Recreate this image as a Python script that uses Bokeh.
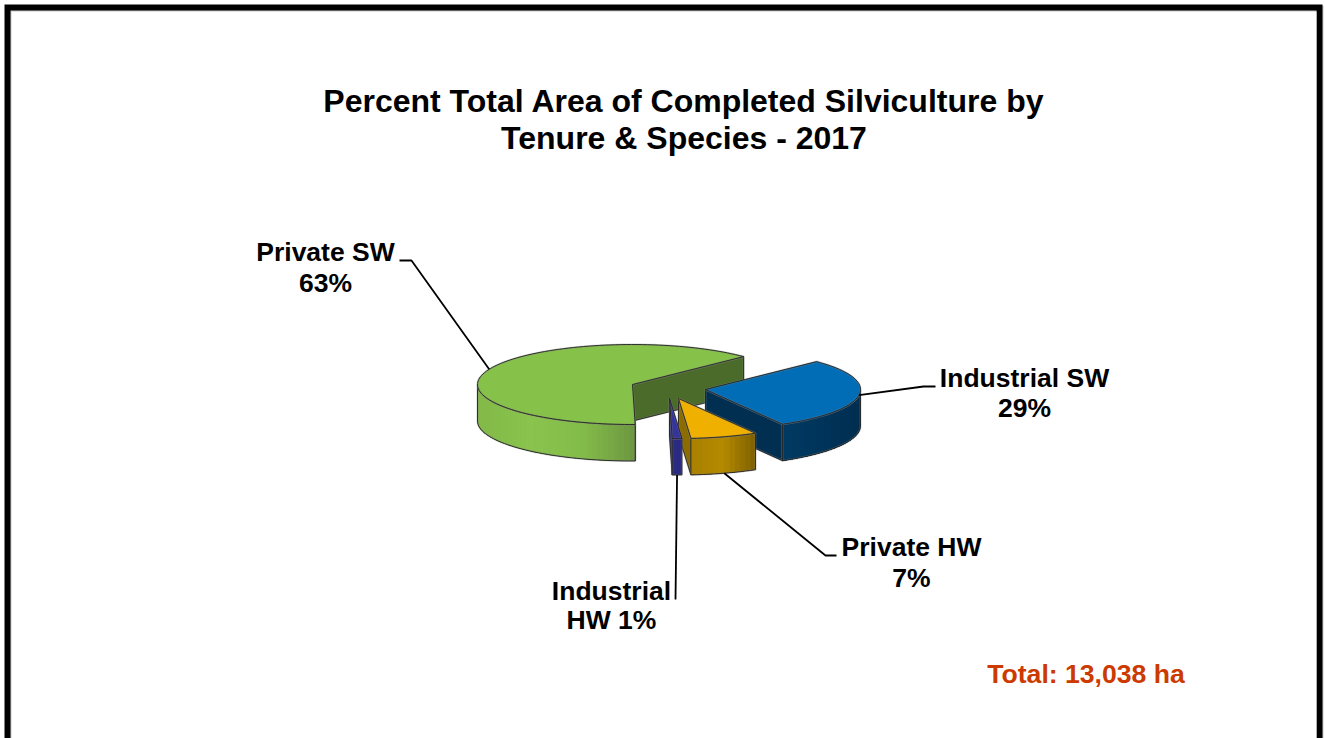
import math
from bokeh.plotting import figure
from bokeh.models import Range1d
from bokeh.core.properties import value
from bokeh.embed import file_html
from bokeh.resources import INLINE

# ---- data ----
categories = ["Private SW", "Industrial SW", "Private HW", "Industrial HW"]
shares = [63, 29, 7, 1]
label_lines = [["Private SW", "63%"], ["Industrial SW", "29%"], ["Private HW", "7%"], ["Industrial", "HW 1%"]]
title_lines = ["Percent Total Area of Completed Silviculture by", "Tenure & Species - 2017"]
total_text = "Total: 13,038 ha"

# ---- layout and style ----
W, H = 1325, 738
FIRST_ANGLE = 179.0          # clockwise from north
RX, RY, DEPTH = 155, 40, 36.5
apexes = [(632, 384), (705, 389), (678, 398), (669, 398)]
top_colors = ["#86C14A", "#006DB6", "#F0B000", "#34349A"]
face_colors = ["#4A6B2A", "#002F52", "#8C6C00", "#28287A"]
rim_stops = [
    ["#82B948", "#8AC34D", "#84BC4A", "#6C9640"],
    ["#003A63", "#00345A", "#002E50"],
    ["#A98100", "#B48A00", "#7E6000"],
    ["#2B2B84", "#2A2A80"],
]
leader_elbows = [[(411, 260), (399, 260)], [(923, 386), (935, 386)], [(825, 555), (836, 555)], [(675, 599)]]
TEXT_SHIFT = -10.5
label_pos = [(325, 261.5, 292.5), (1024, 388, 417.5), (911, 557, 587.5), (611, 601, 629.5)]
EDGE = "#222222"


def pt(apex, deg, drop=0.0):
    a = math.radians(deg)
    return apex[0] + RX * math.sin(a), apex[1] - RY * math.cos(a) + drop


def mix(stops, t):
    if len(stops) == 1:
        return stops[0]
    s = t * (len(stops) - 1)
    i = min(int(s), len(stops) - 2)
    f = s - i
    a = [int(stops[i][k:k + 2], 16) for k in (1, 3, 5)]
    b = [int(stops[i + 1][k:k + 2], 16) for k in (1, 3, 5)]
    return "#%02x%02x%02x" % tuple(round(a[j] + (b[j] - a[j]) * f) for j in range(3))


p = figure(width=W, height=H, x_range=Range1d(0, W), y_range=Range1d(H, 0),
           output_backend="svg", toolbar_location=None, min_border=0,
           outline_line_color=None, background_fill_color="white", border_fill_color="white")
p.axis.visible = False
p.grid.visible = False
p.styles = {"position": "absolute", "left": "0px", "top": "0px"}

# page frame
p.quad(left=[5], right=[1323], top=[5], bottom=[760], fill_color="#c4c4c4", line_color=None)
p.quad(left=[4], right=[1322], top=[4], bottom=[760], fill_color="black", line_color=None)
p.quad(left=[10], right=[1316], top=[10], bottom=[760], fill_color="#c4c4c4", line_color=None)
p.quad(left=[11], right=[1316], top=[11], bottom=[760], fill_color="white", line_color=None)


def poly(xs, ys, color, edge=True):
    if edge:
        p.patch(xs, ys, fill_color=color, line_color=color, line_width=0.5)
    else:
        p.patch(xs, ys, fill_color=color, line_color=None)


def outline(xs, ys, color=EDGE, width=0.9, close=True):
    if close:
        xs, ys = list(xs) + [xs[0]], list(ys) + [ys[0]]
    p.line(xs, ys, line_color="#8c8c8c", line_width=width + 1.2, line_alpha=0.35)
    p.line(xs, ys, line_color=color, line_width=width)


# slices, back to front
start = FIRST_ANGLE
anchors = []
for i, share in enumerate(shares):
    sweep = share * 3.6
    a0, a1 = start, start + sweep
    mid = (a0 + a1) / 2
    apex = apexes[i]
    start = a1

    # cut faces
    for ang in ((a1, a0) if i == 0 else (a1,)):
        s = pt(apex, ang)
        fx = [apex[0], s[0], s[0], apex[0]]
        fy = [apex[1], s[1], s[1] + DEPTH, apex[1] + DEPTH]
        poly(fx, fy, face_colors[i])
        outline(fx, fy)

    # visible part of the outer wall: the near half of the ellipse
    arcs = []
    for k in range(-1, 3):
        l = max(a0, 90 + 360 * k)
        h = min(a1, 270 + 360 * k)
        if h > l:
            arcs.append((l, h))
    for l, h in arcs:
        n = max(3, int((h - l) / 2))
        angs = [l + (h - l) * j / n for j in range(n + 1)]
        xl, xr = pt(apex, l)[0], pt(apex, h)[0]
        for j in range(n):
            # each strip reaches to the end of the arc and is painted over by the next
            tail = angs[j:]
            u = [pt(apex, a) for a in tail]
            mx = (pt(apex, angs[j])[0] + pt(apex, angs[j + 1])[0]) / 2
            t = abs(mx - min(xl, xr)) / (abs(xr - xl) or 1)
            xs = [q[0] for q in u] + [q[0] for q in u[::-1]]
            ys = [q[1] for q in u] + [q[1] + DEPTH for q in u[::-1]]
            poly(xs, ys, mix(rim_stops[i], t), edge=False)
        px = [pt(apex, a)[0] for a in angs]
        py = [pt(apex, a)[1] for a in angs]
        outline(px + px[::-1], py + [y + DEPTH for y in py[::-1]])

    # top face
    n = max(4, int(sweep / 2))
    angs = [a0 + sweep * j / n for j in range(n + 1)]
    tx = [apex[0]] + [pt(apex, a)[0] for a in angs]
    ty = [apex[1]] + [pt(apex, a)[1] for a in angs]
    poly(tx, ty, top_colors[i])
    outline(tx, ty)

    # leader anchor: the rim at the slice's middle angle
    near = math.cos(math.radians(mid)) < -0.5
    anchors.append(pt(apex, mid, DEPTH if near else 0))

# leaders
for a, elbow in zip(anchors, leader_elbows):
    p.line([a[0]] + [e[0] for e in elbow], [a[1]] + [e[1] for e in elbow], line_color="black", line_width=1.8)

# texts
ARIAL = value("Liberation Sans")
for line, y in zip(title_lines, (111, 148)):
    p.text([683.5], [y + TEXT_SHIFT], text=[line], text_font=ARIAL, text_font_style="bold", text_font_size="32px",
           text_align="center", text_baseline="alphabetic", text_color="black")
for lines, (x, y1, y2) in zip(label_lines, label_pos):
    for line, y in zip(lines, (y1, y2)):
        p.text([x], [y + TEXT_SHIFT], text=[line], text_font=ARIAL, text_font_style="bold", text_font_size="26.5px",
               text_align="center", text_baseline="alphabetic", text_color="black")
p.text([1085.5], [684 + TEXT_SHIFT], text=[total_text], text_font=ARIAL, text_font_style="bold", text_font_size="26.6px",
       text_align="center", text_baseline="alphabetic", text_color="#CC3A00")

open("out.html", "w").write(file_html(p, INLINE))
